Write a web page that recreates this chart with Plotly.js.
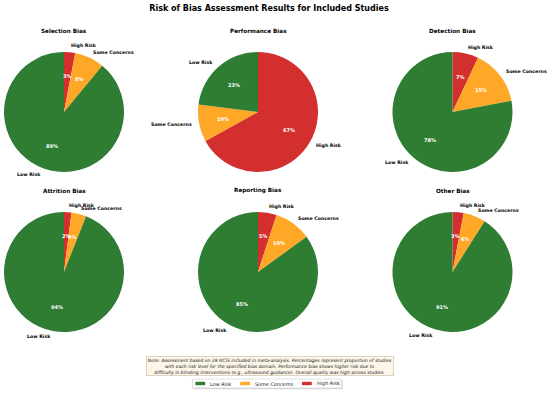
<!DOCTYPE html>
<html>
<head>
<meta charset="utf-8">
<script src="https://cdn.plot.ly/plotly-3.0.1.min.js"></script>
<style>html,body{margin:0;padding:0;background:#fff;} #chart{width:550px;height:393px;}</style>
</head>
<body>
<div id="chart"></div>
<script>
// ---- data ----
const biasDomains = ['Selection Bias', 'Performance Bias', 'Detection Bias', 'Attrition Bias', 'Reporting Bias', 'Other Bias'];
const riskLevels = ['Low Risk', 'Some Concerns', 'High Risk'];
const lowRisk = [89, 23, 78, 94, 85, 91];
const someConcerns = [8, 10, 15, 4, 10, 6];
const highRisk = [3, 67, 7, 2, 5, 3];
const riskColors = ['#2e7d32', '#ffa726', '#d32f2f'];
const mainTitle = 'Risk of Bias Assessment Results for Included Studies';
const noteLines = [
  'Note: Assessment based on 28 RCTs included in meta-analysis. Percentages represent proportion of studies',
  'with each risk level for the specified bias domain. Performance bias shows higher risk due to',
  'difficulty in blinding interventions (e.g., ultrasound guidance). Overall quality was high across studies.'
];

// ---- layout constants ----
const W = 550, H = 393;
const colCenters = [64, 258, 452.5];
const rowCenters = [112, 272];
const R = 60;
const px = x => x / W;
const py = y => 1 - y / H;
const FONT = 'DejaVu Sans';

const traces = [];
const annotations = [];
const shapes = [];

biasDomains.forEach((name, i) => {
  const cx = colCenters[i % 3];
  const cy = rowCenters[Math.floor(i / 3)];
  const vals = [lowRisk[i], someConcerns[i], highRisk[i]];
  // drawn clockwise from 12 o'clock in reverse order == counter-clockwise Low, Some, High
  traces.push({
    type: 'pie',
    labels: riskLevels.slice().reverse(),
    values: vals.slice().reverse(),
    sort: false,
    direction: 'clockwise',
    rotation: 0,
    textinfo: 'none',
    hoverinfo: 'label+percent',
    marker: {colors: riskColors.slice().reverse(), line: {width: 0}},
    domain: {x: [px(cx - R), px(cx + R)], y: [py(cy + R), py(cy - R)]},
    showlegend: false
  });
  // subplot title
  annotations.push({
    xref: 'paper', yref: 'paper', x: px(cx), y: py(cy - 81),
    text: name, showarrow: false, xanchor: 'center', yanchor: 'middle',
    font: {family: FONT, size: 5.7, color: '#000', weight: 'bold'}
  });
  // labels and percentages computed from the data
  const total = vals.reduce((a, b) => a + b, 0);
  let start = 90;
  vals.forEach((v, k) => {
    const sweep = v / total * 360;
    const mid = (start + sweep / 2) * Math.PI / 180;
    start += sweep;
    const cosA = Math.cos(mid), sinA = Math.sin(mid);
    const lx = cx + 1.1 * R * cosA, ly = cy - 1.1 * R * sinA;
    annotations.push({
      xref: 'paper', yref: 'paper', x: px(lx), y: py(ly),
      text: riskLevels[k], showarrow: false,
      xanchor: cosA >= 0 ? 'left' : 'right', yanchor: 'middle',
      borderpad: 0,
      font: {family: FONT, size: 4.7, color: '#000', weight: 'bold'}
    });
    const tx = cx + 0.6 * R * cosA, ty = cy - 0.6 * R * sinA;
    annotations.push({
      xref: 'paper', yref: 'paper', x: px(tx), y: py(ty),
      text: Math.round(v / total * 100) + '%', showarrow: false,
      xanchor: 'center', yanchor: 'middle', borderpad: 0,
      font: {family: FONT, size: 5.0, color: '#fff', weight: 'bold'}
    });
  });
});

// note box
annotations.push({
  xref: 'paper', yref: 'paper', x: px(269.5), y: py(366),
  text: '<i>' + noteLines.join('<br>') + '</i>', showarrow: false,
  xanchor: 'center', yanchor: 'middle', align: 'center',
  bgcolor: '#fcf6e9', bordercolor: '#c9bc9f', borderwidth: 0.6, borderpad: 1.2,
  font: {family: FONT, size: 4.5, color: '#222'}
});

// custom legend (matplotlib-style wide patches)
const LEG_FONT = 4.9;
const ctx = document.createElement('canvas').getContext('2d');
ctx.font = LEG_FONT + 'px "' + FONT + '"';
const handleLen = 2 * LEG_FONT, handlePad = 0.8 * LEG_FONT, colSpace = 2 * LEG_FONT, boxPad = 0.6 * LEG_FONT;
const widths = riskLevels.map(t => ctx.measureText(t).width);
const totalW = widths.reduce((a, w) => a + handleLen + handlePad + w, 0) + colSpace * (riskLevels.length - 1);
const legCx = 267, legCy = 383.5, legH = 9;
const boxL = legCx - totalW / 2 - boxPad, boxR = legCx + totalW / 2 + boxPad;
// shadow + frame
shapes.push({type: 'rect', xref: 'paper', yref: 'paper', x0: px(boxL + 1.2), x1: px(boxR + 1.2),
  y0: py(legCy + legH / 2 + 1.2), y1: py(legCy - legH / 2 + 1.2), fillcolor: '#d9d9d9', line: {width: 0}, layer: 'above'});
shapes.push({type: 'rect', xref: 'paper', yref: 'paper', x0: px(boxL), x1: px(boxR),
  y0: py(legCy + legH / 2), y1: py(legCy - legH / 2), fillcolor: '#ffffff', line: {color: '#cccccc', width: 0.6}, layer: 'above'});
let xCur = legCx - totalW / 2;
riskLevels.forEach((lab, k) => {
  shapes.push({type: 'rect', xref: 'paper', yref: 'paper', x0: px(xCur), x1: px(xCur + handleLen),
    y0: py(legCy + 1.7), y1: py(legCy - 1.7), fillcolor: riskColors[k], line: {width: 0}, layer: 'above'});
  annotations.push({xref: 'paper', yref: 'paper', x: px(xCur + handleLen + handlePad), y: py(legCy),
    text: lab, showarrow: false, xanchor: 'left', yanchor: 'middle', borderpad: 0,
    font: {family: FONT, size: LEG_FONT, color: '#222'}});
  xCur += handleLen + handlePad + widths[k] + colSpace;
});

const layout = {
  width: W, height: H,
  margin: {l: 0, r: 0, t: 0, b: 0},
  paper_bgcolor: '#fff',
  title: {
    text: '<b>' + mainTitle + '</b>',
    x: px(269), xanchor: 'center', y: py(8.5), yanchor: 'middle', yref: 'paper',
    font: {family: FONT, size: 8, color: '#000'}
  },
  showlegend: false,
  annotations: annotations,
  shapes: shapes
};

Plotly.newPlot('chart', traces, layout, {displayModeBar: false, staticPlot: true});
</script>
</body>
</html>
